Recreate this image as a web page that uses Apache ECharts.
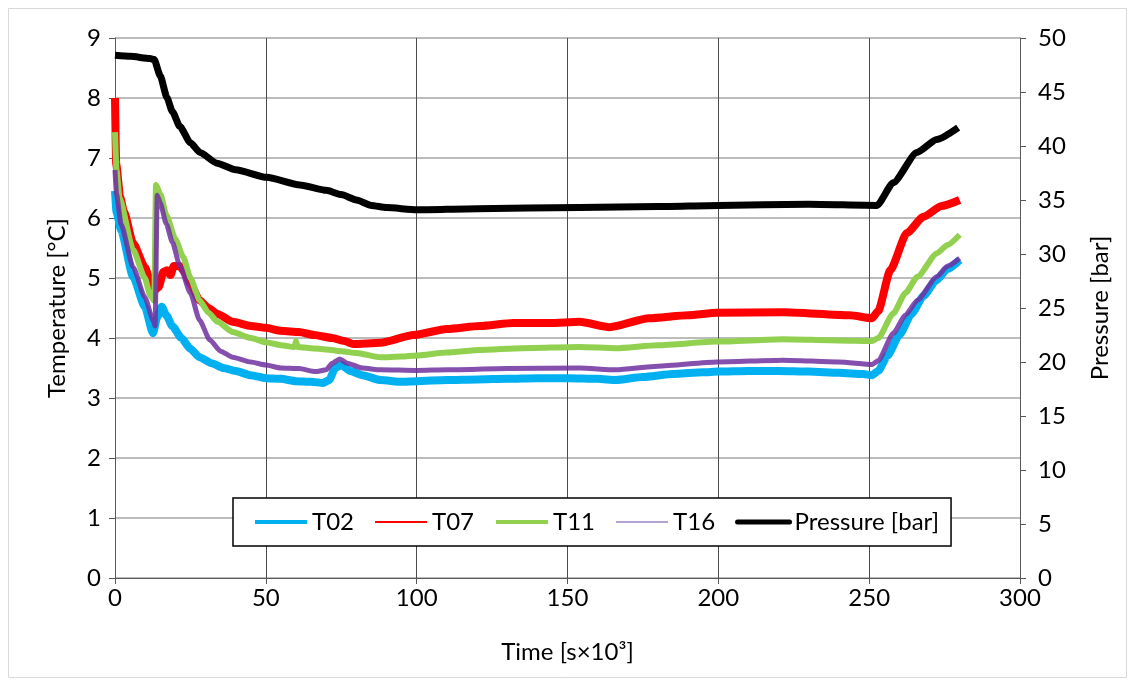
<!DOCTYPE html>
<html>
<head>
<meta charset="utf-8">
<script src="https://cdn.jsdelivr.net/npm/echarts@6/dist/echarts.min.js"></script>
<style>
html,body{margin:0;padding:0;background:#fff;}
#c{width:1135px;height:686px;}
</style>
</head>
<body>
<div id="c"></div>
<script>
// ---- data (time in s×10³) ----
const seriesNames = ['T02', 'T07', 'T11', 'T16', 'Pressure [bar]'];

const timeT02 = [0, 0.5, 2, 6, 9.9, 12.6, 14, 15.5, 17, 19, 22, 25, 28, 32, 36, 40, 45, 50, 55, 60, 65, 69, 71, 73, 75, 78, 82, 88, 95, 100, 110, 120, 130, 140, 150, 160, 166, 175, 185, 195, 200, 210, 220, 230, 240, 248, 251, 253, 256, 260, 264, 268, 272, 276, 280];
const valT02  = [6.45, 6.1, 5.8, 5.02, 4.52, 4.08, 4.35, 4.52, 4.38, 4.2, 4.0, 3.82, 3.68, 3.58, 3.5, 3.45, 3.38, 3.33, 3.32, 3.28, 3.27, 3.25, 3.3, 3.5, 3.55, 3.45, 3.38, 3.3, 3.27, 3.28, 3.3, 3.31, 3.32, 3.33, 3.33, 3.32, 3.3, 3.35, 3.4, 3.43, 3.44, 3.45, 3.45, 3.44, 3.42, 3.4, 3.38, 3.45, 3.7, 4.05, 4.4, 4.7, 4.95, 5.15, 5.3];

const timeT07 = [0, 0.4, 1.7, 3, 6, 9.9, 11.6, 13.3, 14.5, 16, 17.2, 18.4, 19.5, 21.5, 23, 25, 28, 31, 34, 39, 45, 50, 55, 61, 66, 72, 76, 79, 88, 99, 110, 121, 132, 144, 154, 164, 177, 190, 199.5, 221.5, 243.6, 251, 253, 257, 262.5, 268, 274, 280];
const valT07  = [8.0, 6.9, 6.35, 6.1, 5.58, 5.18, 4.97, 4.8, 4.85, 5.1, 5.13, 5.05, 5.2, 5.2, 5.1, 4.9, 4.63, 4.5, 4.4, 4.27, 4.2, 4.17, 4.12, 4.1, 4.05, 4.0, 3.95, 3.9, 3.92, 4.05, 4.15, 4.2, 4.25, 4.25, 4.27, 4.18, 4.33, 4.38, 4.42, 4.43, 4.38, 4.33, 4.45, 5.13, 5.75, 6.02, 6.2, 6.3];

const timeT11 = [0, 0.5, 1.5, 6, 9.9, 11.6, 13, 13.6, 15, 17, 20, 22.6, 25, 28, 31, 34, 39, 45, 50, 55, 59.5, 60, 60.5, 65, 70, 75, 80, 88, 95, 100, 110, 121, 135, 154, 166, 180, 199.5, 221.5, 240, 251, 253, 258, 262, 266, 272.4, 276, 280];
const valT11  = [7.43, 6.8, 6.33, 5.47, 5.0, 4.72, 4.62, 6.55, 6.4, 6.05, 5.65, 5.35, 5.0, 4.63, 4.42, 4.27, 4.1, 4.0, 3.93, 3.88, 3.85, 3.95, 3.85, 3.83, 3.81, 3.78, 3.75, 3.68, 3.69, 3.71, 3.76, 3.8, 3.83, 3.85, 3.83, 3.88, 3.94, 3.98, 3.96, 3.95, 4.0, 4.41, 4.75, 5.02, 5.41, 5.55, 5.72];

const timeT16 = [0, 0.5, 2, 6, 9.9, 12.6, 13.3, 14, 15, 17, 19, 21.5, 25, 28, 31.4, 35, 39, 45, 50, 55, 61, 66.5, 70, 72, 74.5, 77, 82, 88, 100, 110, 130, 154, 166, 180, 199.5, 221.5, 240, 251, 253, 258, 262, 266, 272.4, 276, 280];
const valT16  = [6.8, 6.4, 5.9, 5.18, 4.68, 4.3, 4.2, 6.38, 6.25, 5.9, 5.6, 5.2, 4.75, 4.3, 3.97, 3.78, 3.68, 3.6, 3.55, 3.5, 3.49, 3.44, 3.47, 3.58, 3.65, 3.58, 3.5, 3.47, 3.46, 3.47, 3.49, 3.5, 3.47, 3.53, 3.6, 3.63, 3.6, 3.56, 3.62, 4.08, 4.38, 4.63, 5.02, 5.2, 5.33];

const timeP = [0, 5, 11.6, 13, 15, 17.2, 19, 21.5, 25, 28.2, 33.8, 40, 50.3, 61.3, 70, 75, 80, 85, 90, 100, 120, 154, 180, 200, 230, 252.6, 258, 265.8, 272.4, 279.5];
const valP  = [48.4, 48.3, 48.1, 48.0, 46.5, 44.5, 43.2, 41.8, 40.3, 39.4, 38.4, 37.8, 37.1, 36.4, 35.9, 35.5, 35.0, 34.5, 34.3, 34.1, 34.2, 34.3, 34.4, 34.5, 34.6, 34.5, 36.6, 39.4, 40.6, 41.7];

const xTicks = [0, 50, 100, 150, 200, 250, 300];
const leftTicks = [0, 1, 2, 3, 4, 5, 6, 7, 8, 9];
const rightTicks = [0, 5, 10, 15, 20, 25, 30, 35, 40, 45, 50];

const pairs = (t, v) => t.map((x, i) => [x, v[i]]);

const FONT = 'Lato';
const FS = 24;
const chart = echarts.init(document.getElementById('c'), null, {renderer: 'canvas'});

const colors = ['#00B0F0', '#FF0000', '#92D050', '#7030A0', '#000000'];
const widths = [8, 8, 6, 5, 7];
const legendWidths = [4, 2, 4, 2, 5];
const legendColors = ['#00B0F0', '#FF0000', '#92D050', '#B4A2D4', '#000000'];
const dataSets = [pairs(timeT02, valT02), pairs(timeT07, valT07), pairs(timeT11, valT11), pairs(timeT16, valT16), pairs(timeP, valP)];

const option = {
  backgroundColor: '#fff',
  animation: false,
  textStyle: {fontFamily: FONT, color: '#000'},
  grid: {left: 115, right: 115, top: 38, bottom: 108, containLabel: false},
  graphic: [{
    type: 'rect', shape: {x: 8.5, y: 8.5, width: 1118, height: 669},
    style: {fill: 'none', stroke: '#d9d9d9', lineWidth: 1}, z: -10
  }],
  legend: {
    left: 233, top: 498,
    padding: [12, 12, 12, 20],
    backgroundColor: '#fff',
    borderColor: '#000', borderWidth: 1.5, borderRadius: 0,
    itemWidth: 52, itemHeight: 24, itemGap: 20,
    textStyle: {fontFamily: FONT, fontSize: FS, color: '#000'},
    data: seriesNames.map((n, i) => ({
      name: n,
      itemStyle: {opacity: 0},
      lineStyle: {width: legendWidths[i], color: legendColors[i], cap: i === 4 ? 'round' : 'butt', opacity: 1}
    }))
  },
  xAxis: {
    type: 'value', min: 0, max: 300, interval: 50,
    name: 'Time [s×10³]', nameLocation: 'middle', nameGap: 62,
    nameTextStyle: {fontFamily: FONT, fontSize: FS, color: '#000'},
    axisLine: {show: true, lineStyle: {color: '#595959', width: 1}},
    axisTick: {show: true, inside: false, length: 6, lineStyle: {color: '#595959'}},
    axisLabel: {fontFamily: FONT, fontSize: FS, color: '#000', margin: 8},
    splitLine: {show: true, lineStyle: {color: '#4d4d4d', width: 1}}
  },
  yAxis: [{
    type: 'value', min: 0, max: 9, interval: 1, position: 'left',
    name: 'Temperature [°C]', nameLocation: 'middle', nameGap: 46, nameRotate: 90,
    nameTextStyle: {fontFamily: FONT, fontSize: FS, color: '#000'},
    axisLine: {show: true, lineStyle: {color: '#595959', width: 1}},
    axisTick: {show: true, inside: false, length: 6, lineStyle: {color: '#595959'}},
    axisLabel: {fontFamily: FONT, fontSize: FS, color: '#000', margin: 14},
    splitLine: {show: true, lineStyle: {color: '#a6a6a6', width: 1.5}}
  }, {
    type: 'value', min: 0, max: 50, interval: 5, position: 'right',
    name: 'Pressure [bar]', nameLocation: 'middle', nameGap: 68, nameRotate: 90,
    nameTextStyle: {fontFamily: FONT, fontSize: FS, color: '#000'},
    axisLine: {show: true, lineStyle: {color: '#595959', width: 1}},
    axisTick: {show: true, inside: false, length: 6, lineStyle: {color: '#595959'}},
    axisLabel: {fontFamily: FONT, fontSize: FS, color: '#000', margin: 18},
    splitLine: {show: false}
  }],
  series: seriesNames.map((n, i) => ({
    name: n, type: 'line', yAxisIndex: i === 4 ? 1 : 0,
    data: dataSets[i], showSymbol: false, symbol: 'none',
    smooth: 0.2, smoothMonotone: 'x',
    lineStyle: {color: colors[i], width: widths[i], opacity: i === 3 ? 0.85 : 1, join: 'round'},
    itemStyle: {color: colors[i]},
    z: 2 + i
  }))
};
chart.setOption(option);
</script>
</body>
</html>
